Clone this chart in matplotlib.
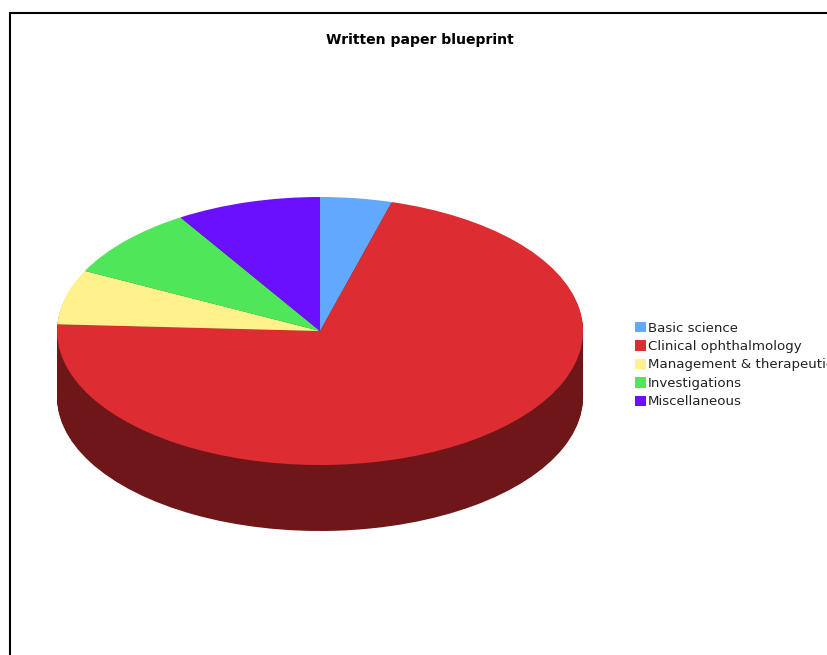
import matplotlib
matplotlib.use("Agg")
import matplotlib.pyplot as plt
from matplotlib.lines import Line2D

# values (percent)
categories = ["Basic science", "Clinical ophthalmology", "Management & therapeutics",
              "Investigations", "Miscellaneous"]
values = [4.4, 71.4, 6.6, 8.7, 8.9]
colors = ["#62a8ff", "#dd2c32", "#fff18c", "#50e65a", "#6a10ff"]
side_colors = ["#31547f", "#6f1618", "#807846", "#28732d", "#35087f"]

W, H = 827, 655
cx, cy = 320, 331
rx, ry = 263, 134
depth = 66

fig = plt.figure(figsize=(W / 100, H / 100), dpi=100, facecolor="white")
ax = fig.add_axes([0, 0, 1, 1])

# side of the pie, stacked layers from the bottom up
for d in range(depth, 0, -1):
    ax.pie(values, colors=side_colors, startangle=90, counterclock=False,
           center=(0, -d / ry), radius=1, frame=False)

# top face
wedges, _ = ax.pie(values, colors=colors, startangle=90, counterclock=False,
                   center=(0, 0), radius=1, frame=False)

ax.set_aspect("auto")
ax.set_xlim(-cx / rx, (W - cx) / rx)
ax.set_ylim((cy - H) / ry, cy / ry)
ax.axis("off")

# frame, runs off the right and bottom of the picture
fig.add_artist(Line2D([10 / W, 10 / W], [0, 1 - 12 / H], color="black", lw=1.5,
                      solid_capstyle="butt"))
fig.add_artist(Line2D([9 / W, 1], [1 - 13 / H, 1 - 13 / H], color="black", lw=1.5,
                      solid_capstyle="butt"))

fig.text(420 / W, 1 - 40 / H, "Written paper blueprint", ha="center", va="center",
         fontsize=10.1, fontweight="bold", family="DejaVu Sans", color="black")

leg = fig.legend(wedges, categories, loc="upper left",
                 bbox_to_anchor=(635 / W, 1 - 321.5 / H), frameon=False,
                 fontsize=9.65, labelspacing=0.41, handlelength=0.82, handleheight=0.82,
                 handletextpad=0.16, borderpad=0, borderaxespad=0)
for t in leg.get_texts():
    t.set_color("#222222")

fig.savefig("out.png", dpi=100)
